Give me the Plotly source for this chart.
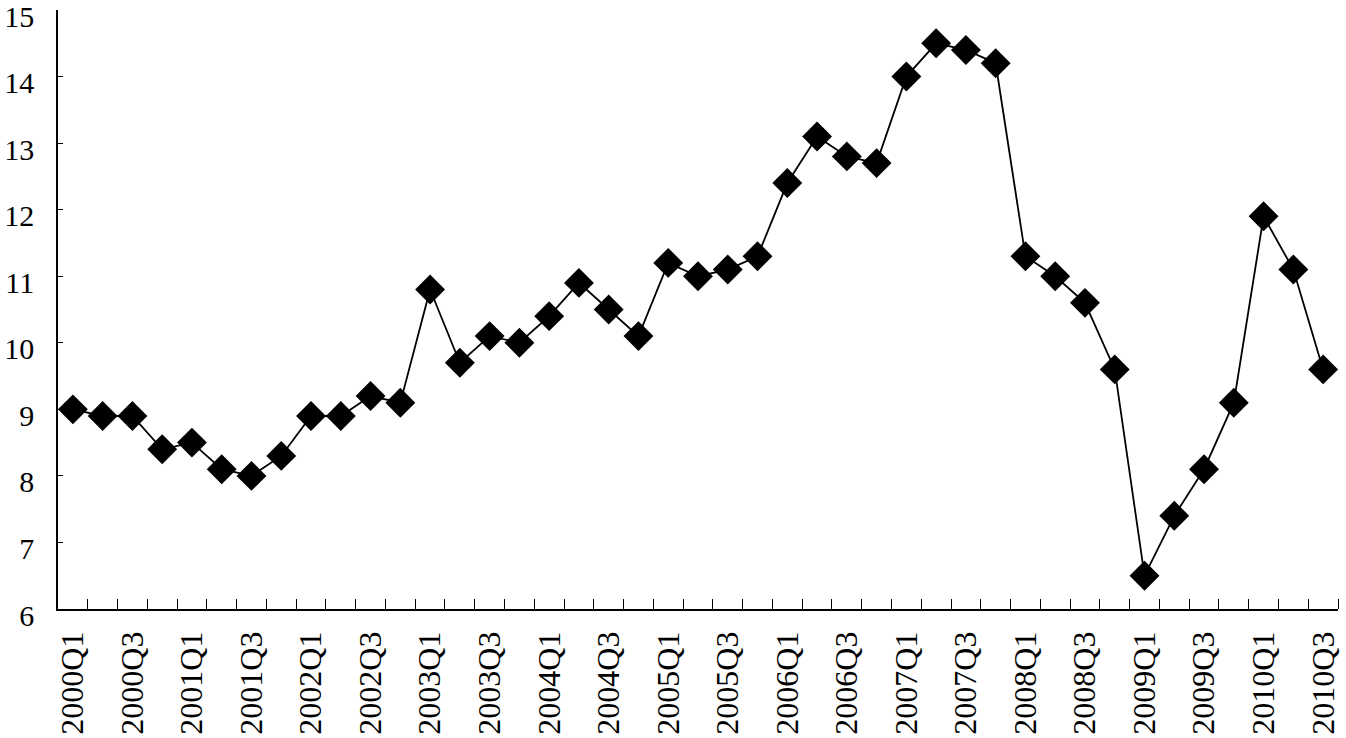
import plotly.graph_objects as go

quarters = [f"{y}Q{q}" for y in range(2000, 2011) for q in range(1, 5)][:43]
values = [9.0, 8.9, 8.9, 8.4, 8.5, 8.1, 8.0, 8.3, 8.9, 8.9, 9.2, 9.1,
          10.8, 9.7, 10.1, 10.0, 10.4, 10.9, 10.5, 10.1,
          11.2, 11.0, 11.1, 11.3, 12.4, 13.1, 12.8, 12.7,
          14.0, 14.5, 14.4, 14.2, 11.3, 11.0, 10.6, 9.6,
          6.5, 7.4, 8.1, 9.1, 11.9, 11.1, 9.6]
y_ticks = [6, 7, 8, 9, 10, 11, 12, 13, 14, 15]

idx = list(range(len(quarters)))

fig = go.Figure()
fig.add_trace(go.Scatter(
    x=idx, y=values, mode="lines+markers",
    line=dict(color="black", width=1.8),
    marker=dict(symbol="diamond", size=23, color="black"),
    hoverinfo="skip", showlegend=False, cliponaxis=False,
))

fig.update_layout(
    width=1346, height=738,
    margin=dict(l=58, r=8, t=10, b=129, autoexpand=False),
    paper_bgcolor="white", plot_bgcolor="white",
    font=dict(family="Liberation Serif, Times New Roman, serif", size=32, color="black"),
)
fig.update_xaxes(
    range=[-0.5, len(quarters) - 0.5], automargin=False,
    tickmode="array", tickvals=idx[::2], ticktext=quarters[::2],
    tickangle=-90, ticks="", showgrid=False, zeroline=False,
    showline=True, linecolor="black", linewidth=1.5,
    minor=dict(tickmode="array", tickvals=[i + 0.5 for i in idx], ticks="inside",
               ticklen=10, tickcolor="black", tickwidth=1, showgrid=False),
    tickfont=dict(size=32), ticklabelstandoff=8, ticklabeloverflow="allow",
)
fig.update_yaxes(
    range=[6, 15], tickmode="array", tickvals=y_ticks, automargin=False,
    ticks="inside", ticklen=5, tickcolor="black", tickwidth=1,
    showgrid=False, zeroline=False,
    showline=True, linecolor="black", linewidth=1.5,
    tickfont=dict(size=30), ticklabelstandoff=16, ticklabelshift=6,
    ticklabeloverflow="allow",
)

fig.write_html("out.html", config={"displayModeBar": False},
               post_script="document.body.style.margin='0';document.body.style.overflow='hidden';")
